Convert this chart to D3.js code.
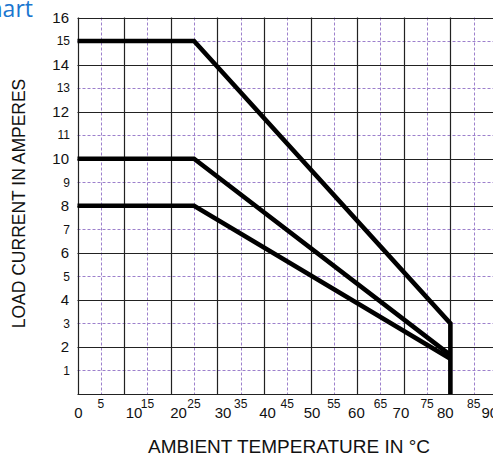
<!DOCTYPE html>
<html>
<head>
<meta charset="utf-8">
<script src="https://cdn.jsdelivr.net/npm/d3@7"></script>
<style>
  html, body { margin: 0; padding: 0; background: #fff; overflow: hidden; }
  svg { display: block; }
</style>
</head>
<body>
<svg id="chart" width="493" height="457"></svg>
<script>
// ---- data ----
const titleText = "Chart";
const xLabel = "AMBIENT TEMPERATURE IN °C";
const yLabel = "LOAD CURRENT IN AMPERES";
const xMajorTicks = [0, 10, 20, 30, 40, 50, 60, 70, 80, 90];
const xMinorTicks = [5, 15, 25, 35, 45, 55, 65, 75, 85];
const yMajorTicks = [2, 4, 6, 8, 10, 12, 14, 16];
const yMinorTicks = [1, 3, 5, 7, 9, 11, 13, 15];
const curve15 = [[0, 15], [25, 15], [80, 3], [80, 0]];
const curve10 = [[0, 10], [25, 10], [80, 1.65]];
const curve8  = [[0, 8],  [25, 8],  [80, 1.5]];
const curves = [curve15, curve10, curve8];

// ---- layout ----
const svg = d3.select("#chart");
const x = d3.scaleLinear().domain([0, 90]).range([77.5, 497]);
const y = d3.scaleLinear().domain([0, 16]).range([394, 17.5]);
// the large labels of the x axis sit on a slightly compressed spacing
const xLab = d3.scaleLinear().domain([10, 80]).range([x(10) + 10, x(80) - 5]);

const font = "'Liberation Sans', Arial, sans-serif";

// minor dashed grid
const g = svg.append("g");
g.selectAll("line.vmin").data(xMinorTicks).join("line")
  .attr("x1", d => Math.round(x(d)) + 0.5).attr("x2", d => Math.round(x(d)) + 0.5)
  .attr("y1", y(16)).attr("y2", y(0))
  .attr("stroke", "#9d80cc").attr("stroke-width", 1).attr("stroke-dasharray", "3,2");
g.selectAll("line.hmin").data(yMinorTicks).join("line")
  .attr("y1", d => Math.round(y(d)) + 0.5).attr("y2", d => Math.round(y(d)) + 0.5)
  .attr("x1", x(0)).attr("x2", x(90))
  .attr("stroke", "#9d80cc").attr("stroke-width", 1).attr("stroke-dasharray", "3,2");

// major solid grid
g.selectAll("line.vmaj").data(xMajorTicks).join("line")
  .attr("x1", d => Math.round(x(d)) + 0.5).attr("x2", d => Math.round(x(d)) + 0.5)
  .attr("y1", y(16)).attr("y2", y(0))
  .attr("stroke", "#222").attr("stroke-width", 1.2);
g.selectAll("line.hmaj").data([0].concat(yMajorTicks)).join("line")
  .attr("y1", d => Math.round(y(d)) + 0.5).attr("y2", d => Math.round(y(d)) + 0.5)
  .attr("x1", x(0)).attr("x2", x(90))
  .attr("stroke", "#222").attr("stroke-width", 1.2);

// curves
const line = d3.line().x(d => x(d[0])).y(d => y(d[1]));
svg.selectAll("path.curve").data(curves).join("path")
  .attr("class", "curve")
  .attr("d", line)
  .attr("fill", "none")
  .attr("stroke", "#000")
  .attr("stroke-width", 4.6)
  .attr("stroke-linejoin", "miter");

// y tick labels
svg.selectAll("text.ymaj").data(yMajorTicks).join("text")
  .attr("x", 69).attr("y", d => y(d)).attr("dy", "0.36em")
  .attr("text-anchor", "end").attr("font-family", font).attr("font-size", 15)
  .attr("fill", "#111").text(d => d);
svg.selectAll("text.ymin").data(yMinorTicks).join("text")
  .attr("x", 70).attr("y", d => y(d)).attr("dy", "0.36em")
  .attr("text-anchor", "end").attr("font-family", font).attr("font-size", 12)
  .attr("fill", "#111").text(d => d);

// x tick labels
svg.selectAll("text.xmaj").data(xMajorTicks).join("text")
  .attr("x", d => d === 0 ? x(0) + 1 : xLab(d)).attr("y", 418)
  .attr("text-anchor", "middle").attr("font-family", font).attr("font-size", 15)
  .attr("fill", "#111").text(d => d);
svg.selectAll("text.xmin").data(xMinorTicks).join("text")
  .attr("x", d => x(d)).attr("y", 408)
  .attr("text-anchor", "middle").attr("font-family", font).attr("font-size", 12)
  .attr("fill", "#111").text(d => d);

// axis titles
svg.append("text")
  .attr("x", 289).attr("y", 453)
  .attr("text-anchor", "middle").attr("font-family", font).attr("font-size", 19)
  .attr("fill", "#111").text(xLabel);
svg.append("text")
  .attr("transform", "translate(25,203.5) rotate(-90)")
  .attr("text-anchor", "middle").attr("font-family", font).attr("font-size", 17.5)
  .attr("fill", "#111").text(yLabel);

// (clipped) chart title
svg.append("text")
  .attr("x", 33).attr("y", 17)
  .attr("text-anchor", "end").attr("font-family", "'Open Sans', sans-serif").attr("font-size", 23)
  .attr("fill", "#1b76cf").text(titleText);
</script>
</body>
</html>
